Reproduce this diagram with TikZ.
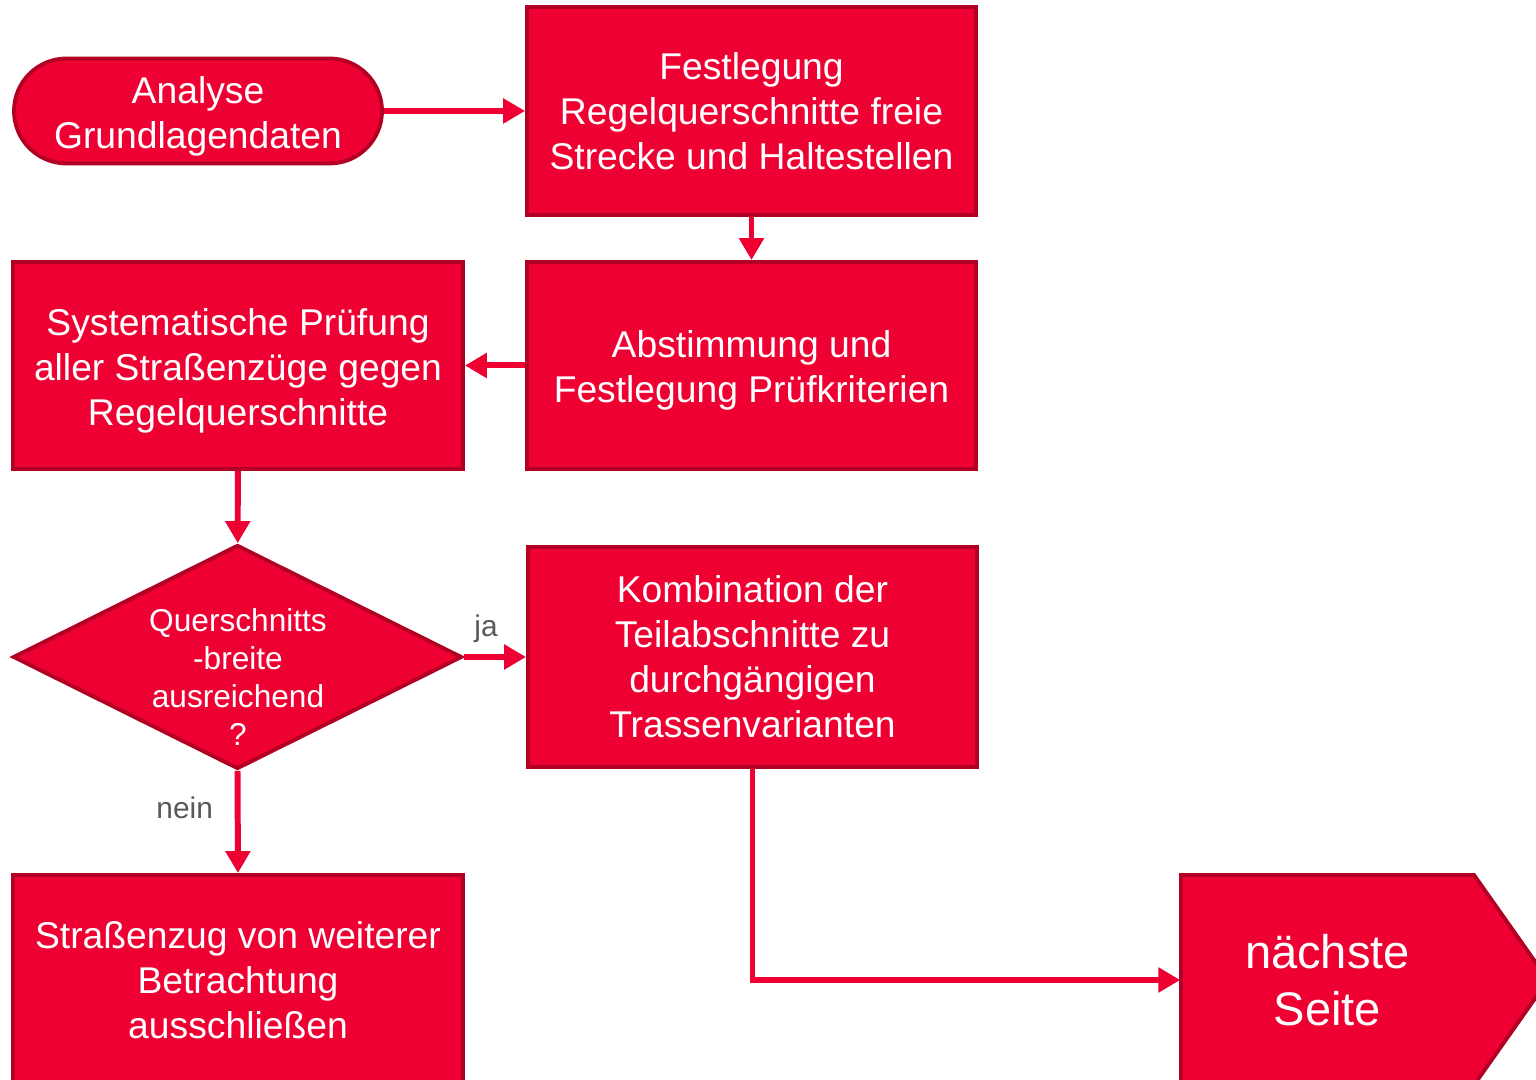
\documentclass[tikz,border=0pt]{standalone}
\usepackage{fontspec}
\setmainfont{Liberation Sans}
\usepackage{tikz}
\usetikzlibrary{calc,shapes,shapes.misc,shapes.geometric,arrows.meta,positioning}
\definecolor{rotfill}{RGB}{239,0,51}
\definecolor{rotrand}{RGB}{178,0,36}
\definecolor{labelgrau}{RGB}{89,89,89}

\begin{document}
\begin{tikzpicture}[
  kasten/.style = {draw=rotrand, fill=rotfill, line width=1.1pt, text=white, align=center,
    inner sep=0pt, minimum width=4.49cm, font=\fontsize{10.6}{12.8}\selectfont},
  startform/.style = {kasten, rounded rectangle, minimum width=3.68cm, minimum height=1.05cm},
  raute/.style = {draw=rotrand, fill=rotfill, line width=1.1pt, diamond, inner sep=0pt,
    minimum width=4.49cm, minimum height=2.24cm},
  rautetext/.style = {text=white, align=center, inner sep=0pt, font=\fontsize{9}{10.8}\selectfont},
  flow/.style = {draw=rotfill, line width=1.7pt, -{Triangle[length=0.22cm, width=0.24cm]}},
  lbl/.style = {text=labelgrau, font=\fontsize{8.5}{10}\selectfont}
]
\useasboundingbox (0,0) rectangle (15.36,10.8);
\clip (0,0) rectangle (15.36,10.8);

\node[startform, text height=23.3pt, text depth=2.2pt] (start) at (1.98,9.69) {Analyse\\Grundlagendaten};
\node[kasten, minimum height=2.08cm] (fest) at (7.515,9.69) {Festlegung\\Regelquerschnitte freie\\Strecke und Haltestellen};
\node[kasten, minimum height=2.07cm, text height=23.3pt, text depth=2.2pt] (abst) at (7.515,7.145) {Abstimmung und\\Festlegung Prüfkriterien};
\node[kasten, minimum width=4.50cm, minimum height=2.07cm, text height=36.1pt, text depth=2.2pt] (syst) at (2.38,7.145) {Systematische Prüfung\\aller Straßenzüge gegen\\Regelquerschnitte};
\node[raute] (dec) at (2.375,4.23) {};
\node[rautetext] (dectxt) at (2.38,4.03) {Querschnitts\\-breite\\ausreichend\\?};
\node[kasten, minimum height=2.20cm] (komb) at (7.525,4.23) {Kombination der\\Teilabschnitte zu\\durchgängigen\\Trassenvarianten};
\node[kasten, minimum width=4.50cm, minimum height=2.10cm] (strz) at (2.38,1.00) {Straßenzug von weiterer\\Betrachtung\\ausschließen};

\draw[draw=rotrand, fill=rotfill, line width=1.1pt] (11.81,-0.05) -- (11.81,2.05) -- (14.74,2.05) -- (15.48,1.00) -- (14.74,-0.05) -- cycle;
\node[text=white, align=center, minimum width=2.93cm, minimum height=2.10cm, inner sep=0pt,
  font=\fontsize{13.4}{16.2}\selectfont] (nextpg) at (13.275,1.00) {nächste\\Seite};

\draw[flow] (start.east) -- (start.east -| fest.west);
\draw[flow] (fest) -- (abst);
\draw[flow] (abst) -- (syst);
\draw[flow] (syst) -- (dec);
\draw[flow] (dec.east) -- node[lbl, above, xshift=-0.09cm] {ja} (komb.west);
\draw[flow] (dec.south) -- node[lbl, left, pos=0.36, xshift=-0.1cm] {nein} (strz.north);
\draw[flow] (komb.south) |- (nextpg.west);
\end{tikzpicture}
\end{document}
